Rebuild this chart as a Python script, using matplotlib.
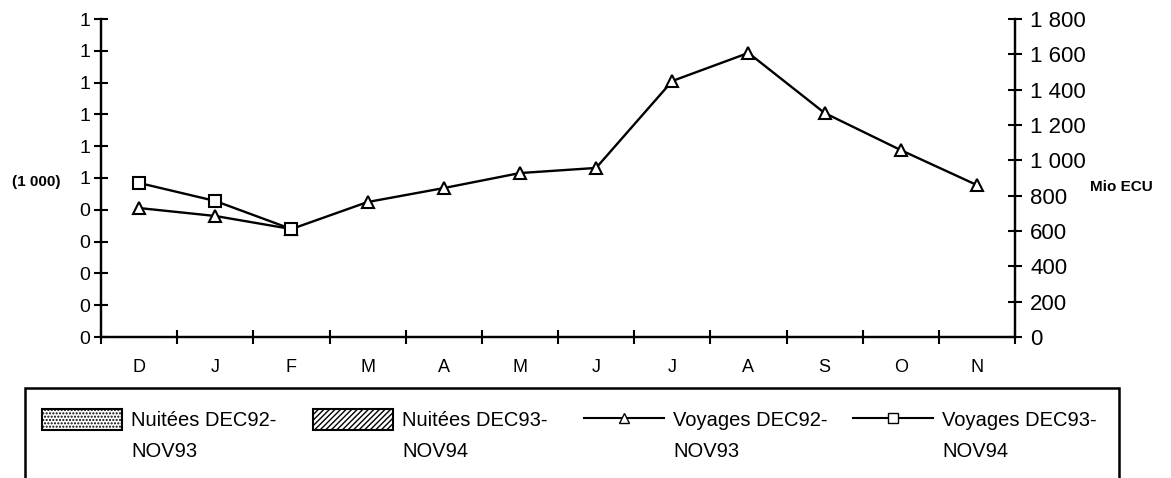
import matplotlib
matplotlib.use('Agg')
import matplotlib.pyplot as plt
from matplotlib.patches import Patch, Rectangle
from matplotlib.lines import Line2D

plt.rcParams['font.family'] = ['Liberation Sans', 'DejaVu Sans']
plt.rcParams['hatch.color'] = 'black'

months = ['D', 'J', 'F', 'M', 'A', 'M', 'J', 'J', 'A', 'S', 'O', 'N']
# voyages, Mio ECU
voy_92_93 = [730, 685, 611, 764, 843, 928, 957, 1449, 1608, 1268, 1058, 860]
voy_93_94 = [872, 770, 611]
# nuitees (1 000), no values plotted
left_ticks = [0, 0.1, 0.2, 0.3, 0.4, 0.5, 0.6, 0.7, 0.8, 0.9, 1.0]
left_labels = ['0', '0', '0', '0', '0', '1', '1', '1', '1', '1', '1']
right_ticks = [0, 200, 400, 600, 800, 1000, 1200, 1400, 1600, 1800]
right_labels = ['0', '200', '400', '600', '800', '1 000', '1 200', '1 400', '1 600', '1 800']

W, H = 1171, 478
fig = plt.figure(figsize=(W / 100, H / 100), dpi=100)
ax = fig.add_axes([101 / W, 1 - 337 / H, (1015 - 101) / W, (337 - 19) / H])
ax2 = ax.twinx()

x = list(range(len(months)))
ax2.plot(x, voy_92_93, color='black', lw=1.7, marker='^', ms=9,
         mfc='white', mec='black', mew=1.5, zorder=3)
ax2.plot(x[:len(voy_93_94)], voy_93_94, color='black', lw=1.7, marker='s', ms=9,
         mfc='white', mec='black', mew=1.5, zorder=4)

ax.set_xlim(-0.5, len(months) - 0.5)
ax.set_ylim(0, 1)
ax2.set_ylim(0, 1800)

# x axis: ticks between categories, labels centred
ax.set_xticks([i - 0.5 for i in range(len(months) + 1)])
ax.set_xticklabels([])
ax.set_xticks(x, minor=True)
ax.set_xticklabels(months, minor=True, fontsize=13)
ax.tick_params(axis='x', which='major', direction='inout', length=10, width=1.5)
ax.tick_params(axis='x', which='minor', length=0, pad=16)

ax.set_yticks(left_ticks)
ax.set_yticklabels(left_labels, fontsize=14)
ax.tick_params(axis='y', direction='inout', length=10, width=1.5, pad=3)

ax2.set_yticks(right_ticks)
ax2.set_yticklabels(right_labels, fontsize=16)
ax2.tick_params(axis='y', direction='inout', length=10, width=1.5, pad=6)

for a in (ax, ax2):
    a.spines['top'].set_visible(False)
    for s in ('left', 'right', 'bottom'):
        a.spines[s].set_linewidth(1.6)

fig.text(36 / W, 1 - 182 / H, '(1 000)', fontsize=11, fontweight='bold',
         ha='center', va='center')
fig.text(1090 / W, 1 - 187 / H, 'Mio ECU', fontsize=11, fontweight='bold',
         ha='left', va='center')

# legend box running off the bottom of the figure
fig.patches.append(Rectangle((25 / W, -0.1), (1119 - 25) / W, 0.1 + 1 - 388 / H,
                             transform=fig.transFigure, fill=False,
                             edgecolor='black', lw=1.8))

handles = [
    Patch(facecolor='white', edgecolor='black', hatch='.....', lw=1.5),
    Patch(facecolor='white', edgecolor='black', hatch='//////', lw=1.5),
    Line2D([], [], color='black', lw=1.5, marker='^', ms=7, mfc='white', mec='black'),
    Line2D([], [], color='black', lw=1.5, marker='s', ms=7, mfc='white', mec='black'),
]
labels = ['Nuitées DEC92-', 'Nuitées DEC93-', 'Voyages DEC92-', 'Voyages DEC93-']
labels2 = ['NOV93', 'NOV94', 'NOV93', 'NOV94']
col_x = [42, 313, 584, 853]
fs = 14.5
legs = []
for h, lab, cx in zip(handles, labels, col_x):
    legs.append(fig.legend([h], [lab], loc='upper left',
                           bbox_to_anchor=(cx / W, 1 - 409 / H),
                           frameon=False, fontsize=fs,
                           handlelength=80 / (fs * 100 / 72), handleheight=1.2,
                           handletextpad=0.45, borderpad=0, borderaxespad=0))

# second line of each label, under the first
fig.canvas.draw()
inv = fig.transFigure.inverted()
for leg, lab2 in zip(legs, labels2):
    x0 = inv.transform(leg.get_texts()[0].get_window_extent().p0)[0]
    fig.text(x0, 1 - 457 / H, lab2, fontsize=fs, ha='left', va='baseline')

fig.savefig('out.png', dpi=100)
